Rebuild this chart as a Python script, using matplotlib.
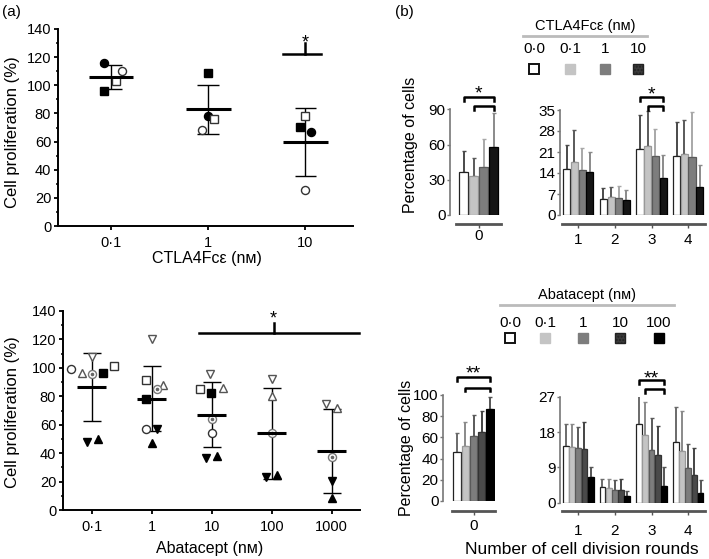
import numpy as np
import matplotlib
matplotlib.use("Agg")
import matplotlib.pyplot as plt
from matplotlib.patches import Rectangle
from matplotlib.lines import Line2D

plt.rcParams['font.family'] = ['Liberation Sans', 'DejaVu Sans']

W, H = 709, 559
PT = 0.72  # points per pixel at dpi 100

# ---- panel (a) top: CTLA4Fce dose response ----
ctla_doses = ['0·1', '1', '10']
ctla_filled_circle = [116, 78, 66.6]
ctla_filled_square = [96, 109, 70.4]
ctla_open_circle = [110, 68.5, 25.4]
ctla_open_square = [103, 76, 78]
ctla_mean = [106, 83, 59.7]
ctla_sd = [8.5, 17.5, 24.2]

# ---- panel (a) bottom: abatacept dose response ----
nan = np.nan
abat_doses = ['0·1', '1', '10', '100', '1000']
abat_open_circle = [99.0, 56.8, 54.4, nan, nan]
abat_open_up = [96.6, 87.9, 86.1, 80.4, 71.5]
abat_dot_circle = [95.7, 84.9, 63.8, 53.9, 37.1]
abat_filled_square = [96.6, 78.1, 82.1, nan, nan]
abat_open_square = [101.3, 91.5, 84.9, nan, nan]
abat_open_down = [107.4, 120.3, 95.7, 92.2, 74.6]
abat_filled_down = [47.6, 56.8, 36.8, 23.5, 20.4]
abat_filled_up = [50.0, 46.9, 38.0, 24.6, 8.2]
abat_mean = [86.5, 78.3, 67.1, 53.9, 41.7]
abat_sd = [23.7, 23.0, 23.0, 32.0, 29.4]

# ---- panel (b): % cells per division round ----
ctla_legend = ['0·0', '0·1', '1', '10']
ctla_div0 = [36.9, 32.9, 40.9, 58.2]
ctla_div0_sd = [18.0, 15.6, 24.0, 29.0]
rounds = [1, 2, 3, 4]
ctla_rounds = [[15.2, 5.3, 22.0, 19.6],
               [17.6, 5.9, 23.1, 20.3],
               [14.9, 5.7, 19.8, 19.4],
               [14.4, 5.0, 12.4, 9.2]]
ctla_rounds_sd = [[8.1, 3.6, 11.3, 11.5],
                  [10.7, 3.5, 11.6, 11.4],
                  [7.6, 4.0, 9.0, 15.1],
                  [6.7, 3.3, 7.6, 7.5]]

abat_legend = ['0·0', '0·1', '1', '10', '100']
abat_div0 = [46.5, 52.0, 61.0, 64.7, 86.4]
abat_div0_sd = [18.0, 22.5, 20.5, 20.3, 11.4]
abat_rounds = [[14.5, 3.9, 20.0, 15.5],
               [14.3, 3.7, 17.2, 13.2],
               [13.9, 3.3, 13.5, 8.8],
               [13.6, 3.3, 12.1, 7.0],
               [6.6, 1.6, 4.3, 2.4]]
abat_rounds_sd = [[5.5, 2.2, 7.4, 9.0],
                  [5.7, 2.4, 8.5, 10.2],
                  [5.5, 2.5, 8.0, 6.1],
                  [6.9, 2.8, 7.4, 6.9],
                  [2.6, 1.4, 4.9, 3.4]]

MARK = {
    'filled_circle': dict(marker='o', mfc='k', mec='k'),
    'filled_square': dict(marker='s', mfc='k', mec='k'),
    'open_circle': dict(marker='o', mfc='white', mec='#333'),
    'open_square': dict(marker='s', mfc='white', mec='#333'),
    'open_up': dict(marker='^', mfc='white', mec='#555'),
    'open_down': dict(marker='v', mfc='white', mec='#555'),
    'filled_up': dict(marker='^', mfc='k', mec='k'),
    'filled_down': dict(marker='v', mfc='k', mec='k'),
    'dot_circle': dict(marker='o', mfc='white', mec='#777'),
}


def px_axes(fig, left, top, right, bottom):
    return fig.add_axes([left / W, 1 - bottom / H, (right - left) / W, (bottom - top) / H])


def ftext(fig, x, y, s, **kw):
    fig.text(x / W, 1 - y / H, s, **kw)


def style_scatter_axes(ax, labels):
    for s in ('top', 'right'):
        ax.spines[s].set_visible(False)
    for s in ('left', 'bottom'):
        ax.spines[s].set_linewidth(1.4)
    ax.set_ylim(0, 140)
    ax.set_yticks(range(0, 141, 20))
    ax.set_yticks(range(0, 141, 10), minor=True)
    ax.set_xticks(range(len(labels)))
    ax.set_xticklabels(labels)
    ax.tick_params(axis='both', which='major', length=4 * PT, width=1.3, labelsize=10.5, pad=2)
    ax.tick_params(axis='y', which='minor', length=2.5 * PT, width=1.1)
    ax.tick_params(axis='x', pad=4)


def draw_scatter(ax, series, offsets, means, sds, half_mean, half_cap):
    x = np.arange(len(means))
    means = np.asarray(means)
    sds = np.asarray(sds)
    ax.vlines(x, means - sds, means + sds, color='k', lw=1.0, zorder=2)
    ax.hlines(means + sds, x - half_cap, x + half_cap, color='k', lw=1.0, zorder=2)
    ax.hlines(means - sds, x - half_cap, x + half_cap, color='k', lw=1.0, zorder=2)
    for name, vals in series:
        xs = x + np.asarray(offsets[name])
        ax.plot(xs, vals, ls='none', ms=5.8, mew=1.0, zorder=3, **MARK[name])
        if name == 'dot_circle':
            ax.plot(xs, vals, ls='none', marker='o', ms=1.6, color='#666', zorder=4)
    ax.hlines(means, x - half_mean, x + half_mean, color='k', lw=2.2, zorder=5)


def style_bar_axes(ax, ylim, yticks, xticks, left_px, bottom_px, xpad_px):
    for s in ('top', 'right'):
        ax.spines[s].set_visible(False)
    ax.spines['left'].set_position(('outward', left_px * PT))
    ax.spines['left'].set_bounds(0, ylim)
    ax.spines['left'].set_color('#777')
    ax.spines['left'].set_linewidth(1.2)
    ax.spines['bottom'].set_position(('outward', bottom_px * PT))
    ax.spines['bottom'].set_color('#555')
    ax.spines['bottom'].set_linewidth(2.0)
    ax.set_ylim(0, ylim)
    ax.set_yticks(yticks)
    ax.set_xticks(xticks)
    ax.tick_params(axis='y', length=3 * PT, width=1.0, color='#777', labelsize=11, pad=1)
    ax.tick_params(axis='x', length=3.5 * PT, width=1.0, color='#555', labelsize=11,
                   pad=xpad_px * PT)


def draw_bars(ax, centers, values, sds, width, colors, edges, ecolors):
    n = len(values)
    for i in range(n):
        xs = np.asarray(centers, dtype=float) + (i - (n - 1) / 2) * width
        ax.bar(xs, values[i], width * 0.92, color=colors[i], edgecolor=edges[i],
               lw=0.9, zorder=2)
        ax.errorbar(xs, values[i], yerr=[np.zeros(len(xs)), sds[i]], fmt='none',
                    ecolor=ecolors[i], elinewidth=1.4, capsize=1.2, capthick=1.0, zorder=1)


def bracket(ax, x0, x1, y, drop):
    ax.plot([x0, x0, x1, x1], [y - drop, y, y, y - drop], color='k', lw=1.8,
            clip_on=False, solid_joinstyle='round', zorder=6)


fig = plt.figure(figsize=(W / 100, H / 100), dpi=100)

# ---------------- (a) top ----------------
ax = px_axes(fig, 58, 29, 353, 226)
style_scatter_axes(ax, ctla_doses)
ax.set_xlim(-0.545, 2.49)
draw_scatter(ax,
             [('filled_circle', ctla_filled_circle), ('filled_square', ctla_filled_square),
              ('open_circle', ctla_open_circle), ('open_square', ctla_open_square)],
             {'filled_circle': [-0.07, 0.0, 0.06], 'filled_square': [-0.07, 0.0, -0.06],
              'open_circle': [0.11, -0.065, 0.0], 'open_square': [0.05, 0.06, 0.0]},
             ctla_mean, ctla_sd, 0.23, 0.11)
ax.plot([1.77, 2.16], [122.5, 122.5], color='k', lw=1.8, clip_on=False)
ax.plot([2.0, 2.0], [122.5, 130], color='k', lw=1.8, clip_on=False)
ax.text(2.0, 127, '*', ha='center', va='baseline', fontsize=13)

# ---------------- (a) bottom ----------------
ax = px_axes(fig, 63, 311, 360, 510)
style_scatter_axes(ax, abat_doses)
ax.set_xlim(-0.48, 4.47)
draw_scatter(ax,
             [('open_circle', abat_open_circle), ('open_up', abat_open_up),
              ('filled_square', abat_filled_square), ('open_square', abat_open_square),
              ('open_down', abat_open_down), ('filled_down', abat_filled_down),
              ('filled_up', abat_filled_up), ('dot_circle', abat_dot_circle)],
             {'open_circle': [-0.35, -0.1, 0.0, 0, 0],
              'open_up': [-0.17, 0.19, 0.18, 0.0, 0.09],
              'dot_circle': [0.0, 0.08, 0.0, 0.0, 0.0],
              'filled_square': [0.19, -0.1, -0.02, 0, 0],
              'open_square': [0.37, -0.1, -0.19, 0, 0],
              'open_down': [0.0, 0.0, -0.03, 0.0, -0.09],
              'filled_down': [-0.08, 0.08, -0.09, -0.1, 0.0],
              'filled_up': [0.1, 0.0, 0.09, 0.08, 0.0]},
             abat_mean, abat_sd, 0.24, 0.15)
ax.plot([1.78, 4.45], [124.3, 124.3], color='k', lw=1.8, clip_on=False)
ax.plot([3.03, 3.03], [124.3, 131.8], color='k', lw=1.8, clip_on=False)
ax.text(3.03, 131.3, '*', ha='center', va='baseline', fontsize=13)

ftext(fig, 2, 12, '(a)', fontsize=11, va='center')
ftext(fig, 395, 12, '(b)', fontsize=11, va='center')
ftext(fig, 13, 132, 'Cell proliferation (%)', rotation=90, ha='center', va='center', fontsize=12)
ftext(fig, 13, 412, 'Cell proliferation (%)', rotation=90, ha='center', va='center', fontsize=12)
ftext(fig, 207, 258, 'CTLA4Fcε (nᴍ)', ha='center', va='center', fontsize=11.5)
ftext(fig, 210, 548, 'Abatacept (nᴍ)', ha='center', va='center', fontsize=11.5)

# ---------------- (b) colours ----------------
ctla_colors = ['white', '#c4c4c4', '#7d7d7d', '#151515']
ctla_edges = ['#222', '#999', '#5a5a5a', '#000']
ctla_ecolors = ['#4a4a4a', '#5a5a5a', '#a8a8a8', '#8a8a8a']
abat_colors = ['white', '#c4c4c4', '#7d7d7d', '#4a4a4a', '#000']
abat_edges = ['#222', '#999', '#5a5a5a', '#333', '#000']
abat_ecolors = ['#6a6a6a', '#8a8a8a', '#5a5a5a', '#444', '#555']

# top-left: round 0
ax = px_axes(fig, 456, 109.3, 501, 215)
ax.set_xlim(-0.45, 0.45)
style_bar_axes(ax, 90, [0, 30, 60, 90], [0], 6, 9, 1)
draw_bars(ax, [0], [[v] for v in ctla_div0], [[s] for s in ctla_div0_sd], 0.2,
          ctla_colors, ctla_edges, ctla_ecolors)
bracket(ax, -0.3, 0.3, 100.5, 3.5)
bracket(ax, -0.1, 0.3, 92.8, 3.5)
ax.text(0, 99.5, '*', ha='center', va='baseline', fontsize=14, clip_on=False)

# top-right: rounds 1-4
ax = px_axes(fig, 562, 110, 705, 215)
ax.set_xlim(0.556, 4.46)
style_bar_axes(ax, 35, [0, 7, 14, 21, 28, 35], rounds, 2, 9, 6)
draw_bars(ax, rounds, ctla_rounds, ctla_rounds_sd, 0.21, ctla_colors, ctla_edges, ctla_ecolors)
bracket(ax, 3 - 0.315, 3 + 0.315, 39.3, 1.3)
bracket(ax, 3 - 0.105, 3 + 0.315, 36.3, 1.3)
ax.text(3, 38.6, '*', ha='center', va='baseline', fontsize=14, clip_on=False)

# bottom-left: round 0
ax = px_axes(fig, 452, 395, 495, 501)
ax.set_xlim(-0.5, 0.5)
style_bar_axes(ax, 100, [0, 20, 40, 60, 80, 100], [0], 9, 10, 4)
draw_bars(ax, [0], [[v] for v in abat_div0], [[s] for s in abat_div0_sd], 0.19,
          abat_colors, abat_edges, abat_ecolors)
bracket(ax, -0.38, 0.38, 117, 3.5)
bracket(ax, -0.19, 0.38, 107, 3.5)
ax.text(0, 115.2, '**', ha='center', va='baseline', fontsize=14, clip_on=False)

# bottom-right: rounds 1-4
ax = px_axes(fig, 562, 396.7, 705, 502.7)
ax.set_xlim(0.556, 4.46)
style_bar_axes(ax, 27, [0, 9, 18, 27], rounds, 2, 8, 10)
draw_bars(ax, rounds, abat_rounds, abat_rounds_sd, 0.17, abat_colors, abat_edges, abat_ecolors)
bracket(ax, 3 - 0.34, 3 + 0.34, 31.3, 1.0)
bracket(ax, 3 - 0.17, 3 + 0.34, 29.0, 1.0)
ax.text(3, 30.4, '**', ha='center', va='baseline', fontsize=14, clip_on=False)

ftext(fig, 411, 145, 'Percentage of cells', rotation=90, ha='center', va='center', fontsize=11.5)
ftext(fig, 406, 448, 'Percentage of cells', rotation=90, ha='center', va='center', fontsize=11.5)
ftext(fig, 582, 549, 'Number of cell division rounds', ha='center', va='center', fontsize=12.5)

# ---------------- (b) legends ----------------
def legend_block(title, ty, line_y, lx0, lx1, labels, label_y, xs, sq_y, colors, edges, hatch_idx):
    ftext(fig, (lx0 + lx1) / 2, ty, title, ha='center', va='center', fontsize=10.5)
    fig.add_artist(Line2D([lx0 / W, lx1 / W], [1 - line_y / H, 1 - line_y / H],
                          color='#bbbbbb', lw=2.0))
    for i, (lab, x) in enumerate(zip(labels, xs)):
        ftext(fig, x, label_y, lab, ha='center', va='center', fontsize=11)
        sz = 10
        r = Rectangle(((x - sz / 2) / W, 1 - (sq_y + sz / 2) / H), sz / W, sz / H,
                      transform=fig.transFigure, facecolor=colors[i],
                      edgecolor=edges[i], lw=1.0 if i else 1.4,
                      hatch='.....' if i == hatch_idx else None)
        fig.add_artist(r)


legend_block('CTLA4Fcε (nᴍ)', 26, 35.5, 523, 647, ctla_legend, 49,
             [534, 570, 605, 638], 69,
             ['white', '#c4c4c4', '#7d7d7d', '#3a3a3a'],
             ['#111', '#c4c4c4', '#7d7d7d', '#222'], 3)
legend_block('Abatacept (nᴍ)', 295, 305, 500, 674, abat_legend, 323,
             [510, 545, 583, 620, 659], 338,
             ['white', '#c4c4c4', '#7d7d7d', '#3a3a3a', '#000'],
             ['#111', '#c4c4c4', '#7d7d7d', '#222', '#000'], 3)

fig.savefig('out.png', dpi=100)
